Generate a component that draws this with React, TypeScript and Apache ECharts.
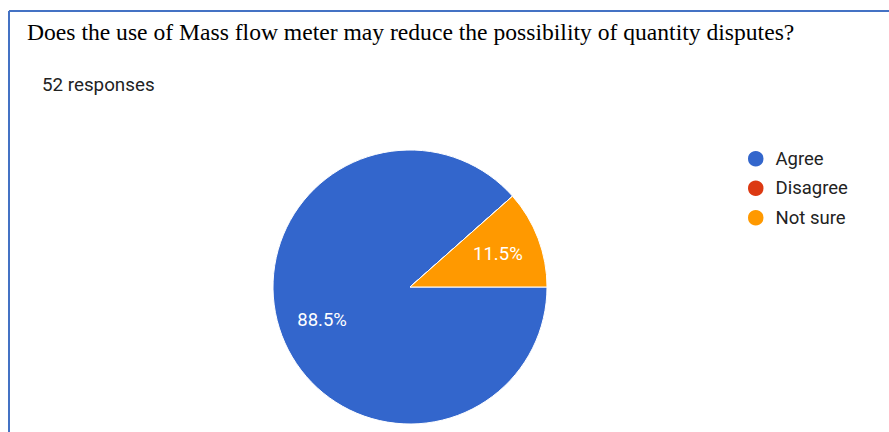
import React, { useEffect, useRef } from "react";
import * as echarts from "echarts";

const titleText = "Does the use of Mass flow meter may reduce the possibility of quantity disputes?";
const subtitleText = "52 responses";
const categories = ["Agree", "Disagree", "Not sure"];
const values = [46, 0, 6];
const colors = ["#3366CC", "#DC3912", "#FF9900"];

export default function App() {
  const ref = useRef<HTMLDivElement>(null);
  useEffect(() => {
    if (!ref.current) return;
    const chart = echarts.init(ref.current, null, { renderer: "svg" });
    const total = values.reduce((a, b) => a + b, 0);
    const data = categories.map((name, i) => ({
      name,
      value: values[i],
      itemStyle: { color: colors[i] },
    }));
    chart.setOption({
      animation: false,
      backgroundColor: "#ffffff",
      legend: {
        orient: "vertical",
        left: 746,
        top: 149,
        icon: "circle",
        itemWidth: 17.5,
        itemHeight: 17.5,
        itemGap: 10,
        padding: 0,
        data: categories,
        textStyle: {
          fontSize: 18.5,
          color: "#222222",
          fontFamily: "Roboto, Arial, sans-serif",
          padding: [0, 0, 0, 6],
        },
      },
      graphic: [
        {
          type: "line",
          shape: { x1: 9, y1: 11, x2: 889, y2: 11 },
          style: { stroke: "#4472C4", lineWidth: 2 },
        },
        {
          type: "line",
          shape: { x1: 9, y1: 11, x2: 9, y2: 432 },
          style: { stroke: "#4472C4", lineWidth: 2 },
        },
        {
          type: "text",
          x: 27,
          y: 32,
          style: {
            text: titleText,
            fontFamily: "'Liberation Serif', 'Times New Roman', serif",
            fontSize: 23.6,
            fill: "#000000",
            verticalAlign: "middle",
          },
        },
        {
          type: "text",
          x: 42,
          y: 85,
          style: {
            text: subtitleText,
            fontFamily: "Roboto, Arial, sans-serif",
            fontSize: 18.8,
            fill: "#222222",
            verticalAlign: "middle",
          },
        },
      ],
      series: [
        {
          type: "pie",
          center: [410, 287],
          radius: [0, 137],
          startAngle: 0,
          clockwise: true,
          label: { show: false },
          labelLine: { show: false },
          itemStyle: { borderColor: "#ffffff", borderWidth: 1 },
          data,
          silent: true,
        },
        {
          type: "pie",
          center: [410, 287],
          radius: [45, 137],
          startAngle: 0,
          clockwise: true,
          silent: true,
          legendHoverLink: false,
          itemStyle: { color: "rgba(0,0,0,0)", borderWidth: 0 },
          labelLine: { show: false },
          label: {
            show: true,
            position: "inside",
            color: "#ffffff",
            fontSize: 18.5,
            fontFamily: "Roboto, Arial, sans-serif",
            formatter: (p: any) =>
              p.value > 0 ? ((p.value / total) * 100).toFixed(1) + "%" : "",
          },
          data: categories.map((name, i) => ({ name: name + " ", value: values[i] })),
        },
      ],
    });
    return () => chart.dispose();
  }, []);
  return (
    <div
      ref={ref}
      style={{ position: "fixed", left: 0, top: 0, width: 889, height: 432 }}
    />
  );
}
